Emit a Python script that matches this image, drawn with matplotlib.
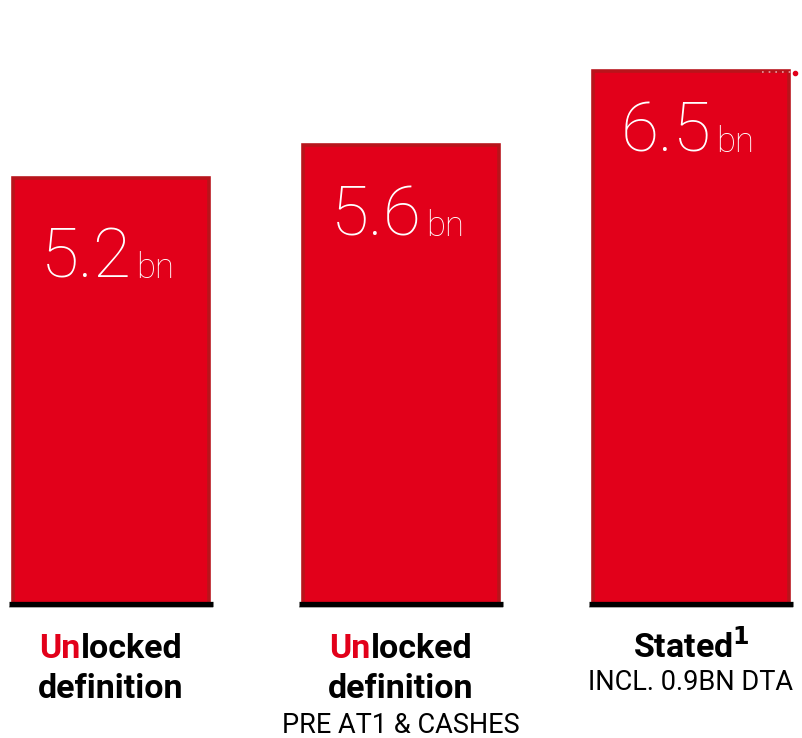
import matplotlib
matplotlib.use("Agg")
import matplotlib.pyplot as plt
from matplotlib.transforms import ScaledTranslation

# Data
categories = ["Unlocked definition", "Unlocked definition\nPRE AT1 & CASHES", "Stated INCL. 0.9BN DTA"]
values = [5.2, 5.6, 6.5]
value_labels = ["5.2", "5.6", "6.5"]
unit = "bn"
# label lines: (highlighted prefix, rest of bold title, second bold line, light subtitle)
title_prefix = ["Un", "Un", ""]
title_rest = ["locked", "locked", "Stated$^{\\mathbf{1}}$"]
title_line2 = ["definition", "definition", ""]
subtitles = ["", "PRE AT1 & CASHES", "INCL. 0.9BN DTA"]

RED = "#E2001A"
EDGE = "#B8141B"
FONT = "Roboto"

W, H = 803, 738
fig = plt.figure(figsize=(W / 100, H / 100), dpi=100)
base_px = 604
ax = fig.add_axes([0, (H - base_px) / H, 1, base_px / H])
px_per_unit = 82.0
ax.set_ylim(0, base_px / px_per_unit)
spacing = 290
left_c = 111
ax.set_xlim(-left_c / spacing, (W - left_c) / spacing)
ax.axis("off")

x = list(range(len(values)))
ax.bar(x, values, width=196 / spacing, color=RED, edgecolor=EDGE, linewidth=2.6, zorder=2)

# black base line under each bar, with a faint grey shadow
shadow = ax.transData + ScaledTranslation(0, -3 / 100, fig.dpi_scale_trans)
for xi in x:
    ax.plot([xi - 102 / spacing, xi + 102 / spacing], [0, 0], color="#BBBBBB",
            lw=1.2, solid_capstyle="butt", zorder=1, clip_on=False, transform=shadow)
    ax.plot([xi - 102 / spacing, xi + 102 / spacing], [0, 0], color="black",
            lw=3.8, solid_capstyle="butt", zorder=3, clip_on=False)

# value labels inside bars
label_drop_px = [100, 91, 81]
for xi, v, lab, drop in zip(x, values, value_labels, label_drop_px):
    ax.annotate(lab, xy=(xi, v), xytext=(15, -drop * 0.72), textcoords="offset points",
                ha="right", va="baseline", color="white", fontsize=50,
                family=FONT, fontweight="light", zorder=4)
    ax.annotate(unit, xy=(xi, v), xytext=(18, -drop * 0.72), textcoords="offset points",
                ha="left", va="baseline", color="white", fontsize=25,
                family=FONT, fontweight="light", zorder=4)

# category labels below the axis
TSIZE = 24.5
SSIZE = 19.5
fig.canvas.draw()
r = fig.canvas.get_renderer()
for xi, pre, rest, l2, sub in zip(x, title_prefix, title_rest, title_line2, subtitles):
    xf = (left_c + xi * spacing) / W
    y1 = 1 - 658 / H
    if pre:
        t1 = fig.text(xf, y1, pre, color=RED, fontsize=TSIZE, fontweight="bold", family=FONT,
                      ha="left", va="baseline")
        t2 = fig.text(xf, y1, rest, color="black", fontsize=TSIZE, fontweight="bold", family=FONT,
                      ha="left", va="baseline")
        w1 = t1.get_window_extent(r).width
        w2 = t2.get_window_extent(r).width
        start = xf * W - (w1 + w2) / 2
        t1.set_x(start / W)
        t2.set_x((start + w1) / W)
    else:
        fig.text(xf, y1, rest, color="black", fontsize=TSIZE, fontweight="bold", family=FONT,
                 ha="center", va="baseline")
    if l2:
        fig.text(xf, 1 - 698 / H, l2, color="black", fontsize=TSIZE, fontweight="bold",
                 family=FONT, ha="center", va="baseline")
    if sub:
        ysub = 1 - (733 if l2 else 690) / H
        fig.text(xf, ysub, sub, color="black", fontsize=SSIZE, fontweight="normal",
                 family=FONT, ha="center", va="baseline")

# small dotted marker at the top right
fig.lines.append(plt.Line2D([762 / W, 792 / W], [1 - 72 / H, 1 - 72 / H], transform=fig.transFigure,
                            color="#E8A0A6", lw=1.2, ls=(0, (1, 3))))
fig.lines.append(plt.Line2D([795 / W], [1 - 73 / H], transform=fig.transFigure,
                            color=RED, marker="o", ms=3, lw=0))

fig.savefig("out.png", dpi=100)
